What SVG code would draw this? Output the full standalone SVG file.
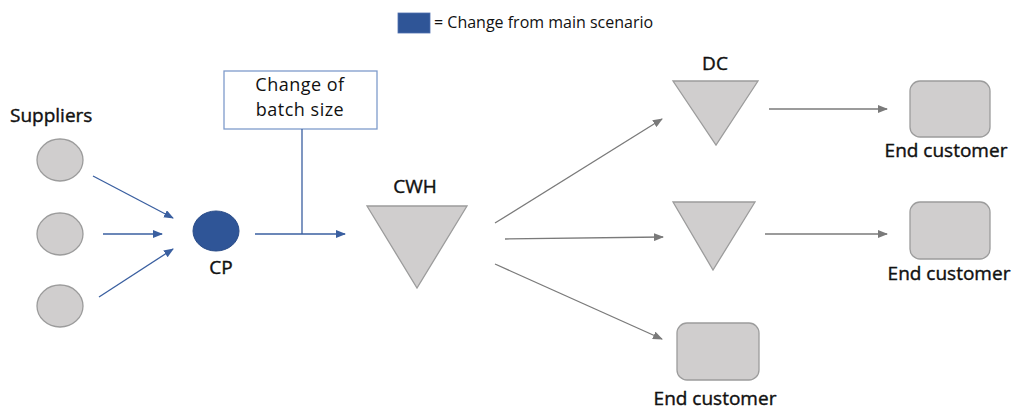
<svg xmlns="http://www.w3.org/2000/svg" width="1012" height="410" viewBox="0 0 1012 410">
  <defs>
    <marker id="ah-blue" markerWidth="10" markerHeight="8" refX="9" refY="4" orient="auto" markerUnits="userSpaceOnUse">
      <path d="M0,0 L10,4 L0,8 Z" fill="#3A5FA0"/>
    </marker>
    <marker id="ah-gray" markerWidth="10" markerHeight="8" refX="9" refY="4" orient="auto" markerUnits="userSpaceOnUse">
      <path d="M0,0 L10,4 L0,8 Z" fill="#7A7A7A"/>
    </marker>
  </defs>
  <style>
    text { font-family: "Open Sans", "Noto Sans", "Liberation Sans", sans-serif; fill: #111; }
    .lbl { font-size: 19px; stroke: #111; stroke-width: 0.4px; }
    .note { font-size: 18px; letter-spacing: 0.5px; }
    .node { fill: #D0CECE; stroke: #9C9C9C; stroke-width: 1.3; }
    .blue { stroke: #3A5FA0; stroke-width: 1.3; fill: none; }
    .gray { stroke: #7A7A7A; stroke-width: 1.3; fill: none; }
  </style>
  <rect width="1012" height="410" fill="#ffffff"/>

  <!-- legend -->
  <g id="legend">
    <rect x="398" y="13" width="32" height="20" fill="#2F5597" stroke="#4F6FAF" stroke-width="0.8"/>
    <text x="434" y="28" font-size="16">= Change from main scenario</text>
  </g>

  <!-- suppliers -->
  <g id="suppliers">
    <text class="lbl" x="10" y="122">Suppliers</text>
    <ellipse class="node" cx="60" cy="160" rx="23" ry="21"/>
    <ellipse class="node" cx="60" cy="234" rx="23" ry="21"/>
    <ellipse class="node" cx="60" cy="306" rx="23" ry="21"/>
  </g>

  <g id="cp">
    <ellipse cx="216" cy="231" rx="23" ry="20" fill="#2F5597" stroke="#2A4C88" stroke-width="1"/>
    <text class="lbl" x="221" y="274" text-anchor="middle">CP</text>
  </g>

  <g id="batch-note">
    <rect x="224" y="71" width="153" height="58" fill="#ffffff" stroke="#7F9BCB" stroke-width="1.3"/>
    <text class="note" x="300" y="91" text-anchor="middle">Change of</text>
    <text class="note" x="300" y="116" text-anchor="middle">batch size</text>
  </g>

  <g id="cwh">
    <text class="lbl" x="415" y="193" text-anchor="middle">CWH</text>
    <polygon class="node" points="367,206 467,206 417,288"/>
  </g>

  <g id="dc1">
    <text class="lbl" x="715" y="70" text-anchor="middle">DC</text>
    <polygon class="node" points="673,81 758,81 716,145"/>
  </g>

  <g id="dc2">
    <polygon class="node" points="673,202 755,202 713,270"/>
  </g>

  <g id="customer1">
    <rect class="node" x="910" y="81" width="80" height="56" rx="10"/>
    <text class="lbl" x="946" y="157" text-anchor="middle">End customer</text>
  </g>

  <g id="customer2">
    <rect class="node" x="910" y="202" width="80" height="57" rx="10"/>
    <text class="lbl" x="949" y="280" text-anchor="middle">End customer</text>
  </g>

  <g id="customer3">
    <rect class="node" x="677" y="323" width="82" height="57" rx="10"/>
    <text class="lbl" x="715" y="405" text-anchor="middle">End customer</text>
  </g>

  <!-- connectors -->
  <g id="connectors">
    <line class="blue" x1="93" y1="176" x2="173" y2="218" marker-end="url(#ah-blue)"/>
    <line class="blue" x1="103" y1="234" x2="162" y2="234" marker-end="url(#ah-blue)"/>
    <line class="blue" x1="99" y1="297" x2="173" y2="249" marker-end="url(#ah-blue)"/>
    <line class="blue" x1="255" y1="234" x2="345" y2="234" marker-end="url(#ah-blue)"/>
    <line class="blue" x1="302" y1="129" x2="302" y2="234"/>
    <line class="gray" x1="495" y1="223" x2="662" y2="119" marker-end="url(#ah-gray)"/>
    <line class="gray" x1="505" y1="239" x2="663" y2="237" marker-end="url(#ah-gray)"/>
    <line class="gray" x1="495" y1="264" x2="662" y2="339" marker-end="url(#ah-gray)"/>
    <line class="gray" x1="769" y1="109" x2="887" y2="109" marker-end="url(#ah-gray)"/>
    <line class="gray" x1="765" y1="234" x2="887" y2="234" marker-end="url(#ah-gray)"/>
  </g>
</svg>
